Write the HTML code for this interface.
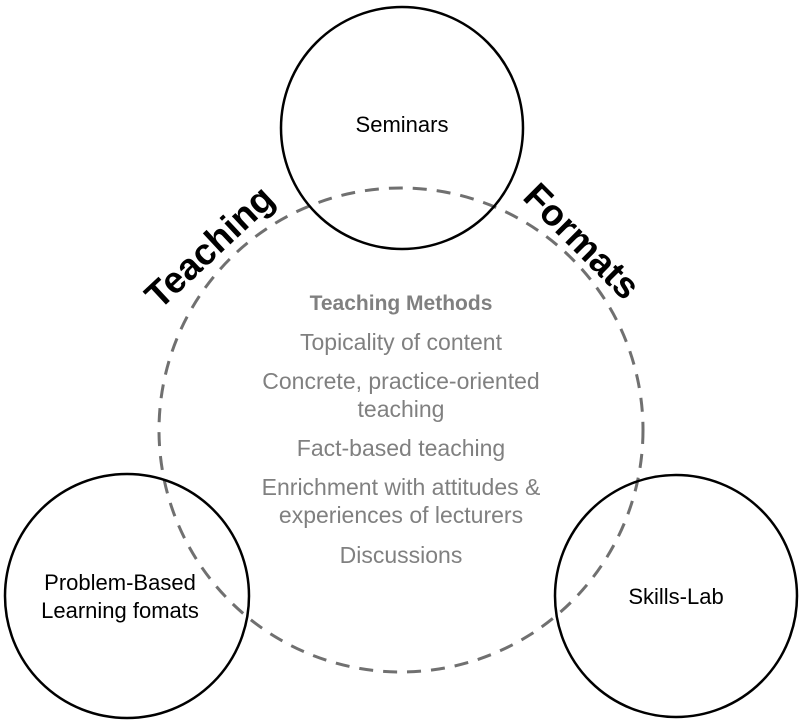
<!DOCTYPE html>
<html><head><meta charset="utf-8"><style>
html,body{margin:0;padding:0;background:#fff;}
svg{display:block;}
text{font-family:"Liberation Sans",Calibri,sans-serif;}
</style></head><body>
<svg width="800" height="721" viewBox="0 0 800 721" xmlns="http://www.w3.org/2000/svg">
<circle cx="401" cy="430" r="242" fill="none" stroke="#707070" stroke-width="3" stroke-dasharray="14,10"/>
<circle cx="402" cy="128" r="121" fill="none" stroke="#000" stroke-width="2.5"/>
<circle cx="127" cy="596" r="122" fill="none" stroke="#000" stroke-width="2.5"/>
<circle cx="676" cy="596" r="121" fill="none" stroke="#000" stroke-width="2.5"/>
<text x="402" y="132" font-size="22" text-anchor="middle" fill="#000">Seminars</text>
<text x="120" y="590" font-size="22" text-anchor="middle" fill="#000">Problem-Based</text>
<text x="120" y="618" font-size="22" text-anchor="middle" fill="#000">Learning fomats</text>
<text x="676" y="604" font-size="22" text-anchor="middle" fill="#000">Skills-Lab</text>
<g fill="#808080" text-anchor="middle" font-size="23">
<text x="401" y="310" font-weight="bold" font-size="21">Teaching Methods</text>
<text x="401" y="350">Topicality of content</text>
<text x="401" y="389">Concrete, practice-oriented</text>
<text x="401" y="417">teaching</text>
<text x="401" y="456">Fact-based teaching</text>
<text x="401" y="495">Enrichment with attitudes &amp;</text>
<text x="401" y="523">experiences of lecturers</text>
<text x="401" y="563">Discussions</text>
</g>
<text x="0" y="0" font-size="37" font-weight="bold" text-anchor="middle" fill="#000" transform="translate(218,256) rotate(-43)">Teaching</text>
<text x="0" y="0" font-size="37" font-weight="bold" text-anchor="middle" fill="#000" transform="translate(573,250) rotate(45)">Formats</text>
</svg>
</body></html>
